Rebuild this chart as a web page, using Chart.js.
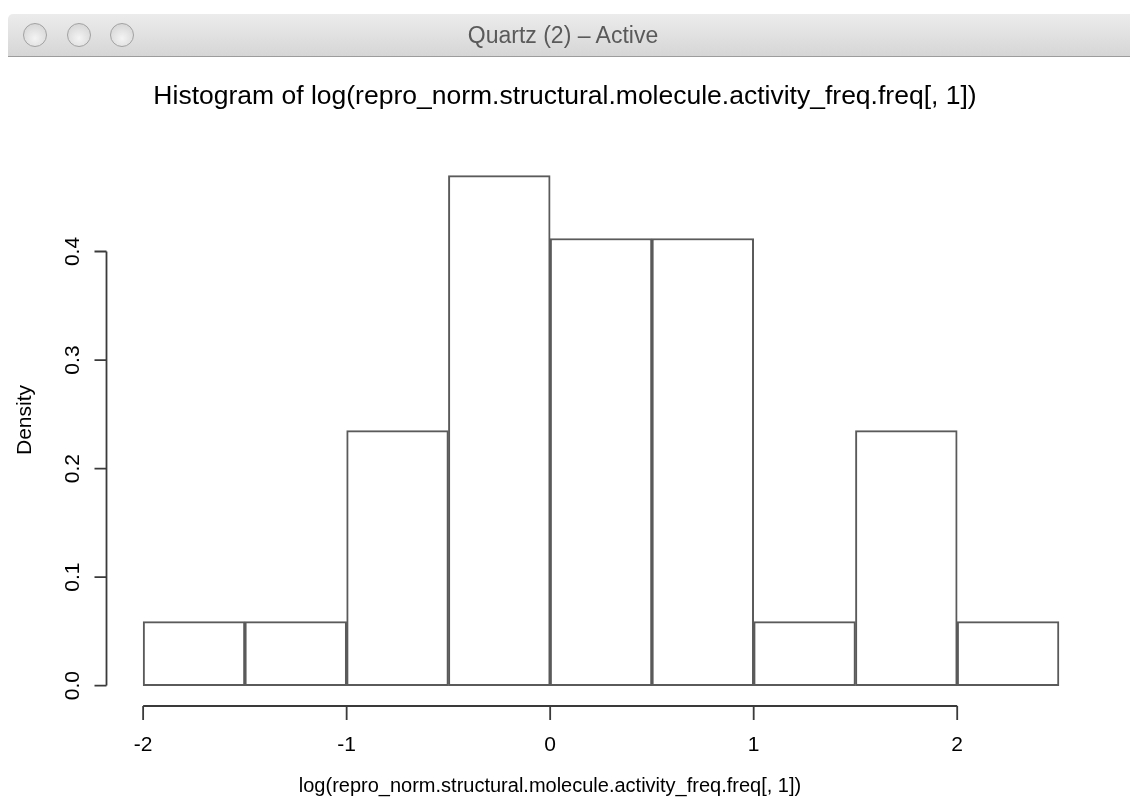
<!DOCTYPE html>
<html>
<head>
<meta charset="utf-8">
<script src="https://cdn.jsdelivr.net/npm/chart.js@4.4.0/dist/chart.umd.min.js"></script>
<style>
  html, body { margin: 0; padding: 0; background: #fff; }
  #wrap { position: relative; width: 1130px; height: 806px; overflow: hidden; }
  #titlebar {
    position: absolute; left: 8px; top: 14px; width: 1122px; height: 42px;
    background: linear-gradient(#ececec, #d6d6d6);
    border-bottom: 1px solid #9c9c9c;
    border-top-left-radius: 5px;
  }
  .btn {
    position: absolute; top: 9px; width: 22px; height: 22px; border-radius: 50%;
    border: 1px solid #a2a2a2;
    background: radial-gradient(circle at 50% 65%, #f4f4f4, #cfcfcf);
  }
  #wintitle {
    position: absolute; left: 0; top: 0; width: 1122px; height: 42px; line-height: 42px;
    text-align: center; text-indent: -12px;
    font-family: "Liberation Sans", Arial, sans-serif; font-size: 23px; color: #5a5a5a;
  }
  #chart { position: absolute; left: 0; top: 0; }
</style>
</head>
<body>
<div id="wrap">
  <canvas id="chart" width="1130" height="806"></canvas>
  <div id="titlebar">
    <div class="btn" style="left:15px"></div>
    <div class="btn" style="left:59px"></div>
    <div class="btn" style="left:102px"></div>
    <div id="wintitle">Quartz (2) &ndash; Active</div>
  </div>
</div>
<script>
// histogram bins (left edges) and density
const binStarts = [-2, -1.5, -1, -0.5, 0, 0.5, 1, 1.5, 2];
const binWidth = 0.5;
const density = [0.059, 0.059, 0.235, 0.470, 0.412, 0.412, 0.059, 0.235, 0.059];

const xTicks = [-2, -1, 0, 1, 2];
const yTicks = [0.0, 0.1, 0.2, 0.3, 0.4];
const yTickLabels = ['0.0', '0.1', '0.2', '0.3', '0.4'];

const mainTitle = 'Histogram of log(repro_norm.structural.molecule.activity_freq.freq[, 1])';
const xTitle = 'log(repro_norm.structural.molecule.activity_freq.freq[, 1])';
const yTitle = 'Density';

const FONT = '"Liberation Sans", Arial, Helvetica, sans-serif';

// R style axes + titles
const rAxes = {
  id: 'rAxes',
  afterDraw(chart) {
    const ctx = chart.ctx;
    const xs = chart.scales.x, ys = chart.scales.y;
    const area = chart.chartArea;
    ctx.save();
    ctx.strokeStyle = '#3a3a3a';
    ctx.lineWidth = 1.8;
    ctx.fillStyle = '#000';

    // y axis
    const yx = area.left;
    ctx.beginPath();
    ctx.moveTo(yx, ys.getPixelForValue(yTicks[0]));
    ctx.lineTo(yx, ys.getPixelForValue(yTicks[yTicks.length - 1]));
    yTicks.forEach(v => {
      const py = ys.getPixelForValue(v);
      ctx.moveTo(yx, py);
      ctx.lineTo(yx - 12, py);
    });
    ctx.stroke();
    ctx.font = '21px ' + FONT;
    ctx.textAlign = 'center';
    ctx.textBaseline = 'middle';
    yTicks.forEach((v, i) => {
      const py = ys.getPixelForValue(v);
      ctx.save();
      ctx.translate(73, py);
      ctx.rotate(-Math.PI / 2);
      ctx.fillText(yTickLabels[i], 0, 0);
      ctx.restore();
    });

    // x axis
    const xy = area.bottom;
    ctx.beginPath();
    ctx.moveTo(xs.getPixelForValue(xTicks[0]), xy);
    ctx.lineTo(xs.getPixelForValue(xTicks[xTicks.length - 1]), xy);
    xTicks.forEach(v => {
      const px = xs.getPixelForValue(v);
      ctx.moveTo(px, xy);
      ctx.lineTo(px, xy + 14);
    });
    ctx.stroke();
    ctx.font = '21px ' + FONT;
    xTicks.forEach(v => {
      ctx.fillText(String(v), xs.getPixelForValue(v), 745);
    });

    // titles
    ctx.font = '26.5px ' + FONT;
    ctx.fillText(mainTitle, 565, 97);
    ctx.font = '20px ' + FONT;
    ctx.fillText(xTitle, 550, 786);
    ctx.font = '21px ' + FONT;
    ctx.save();
    ctx.translate(25, 420);
    ctx.rotate(-Math.PI / 2);
    ctx.fillText(yTitle, 0, 0);
    ctx.restore();
    ctx.restore();
  }
};

const points = binStarts.map((b, i) => ({ x: b + binWidth / 2, y: density[i] }));

new Chart(document.getElementById('chart'), {
  type: 'bar',
  data: {
    datasets: [{
      data: points,
      backgroundColor: '#ffffff',
      borderColor: '#5a5a5a',
      borderWidth: 2,
      borderSkipped: false,
      barPercentage: 1,
      categoryPercentage: 1
    }]
  },
  options: {
    responsive: false,
    animation: false,
    layout: { padding: { left: 106.5, right: 34.4, top: 154.5, bottom: 100 } },
    plugins: { legend: { display: false }, tooltip: { enabled: false }, title: { display: false } },
    scales: {
      x: { type: 'linear', display: false, min: -2.18, max: 2.68, offset: false },
      y: { display: false, min: -0.0188, max: 0.4894 }
    }
  },
  plugins: [rAxes]
});
</script>
</body>
</html>
